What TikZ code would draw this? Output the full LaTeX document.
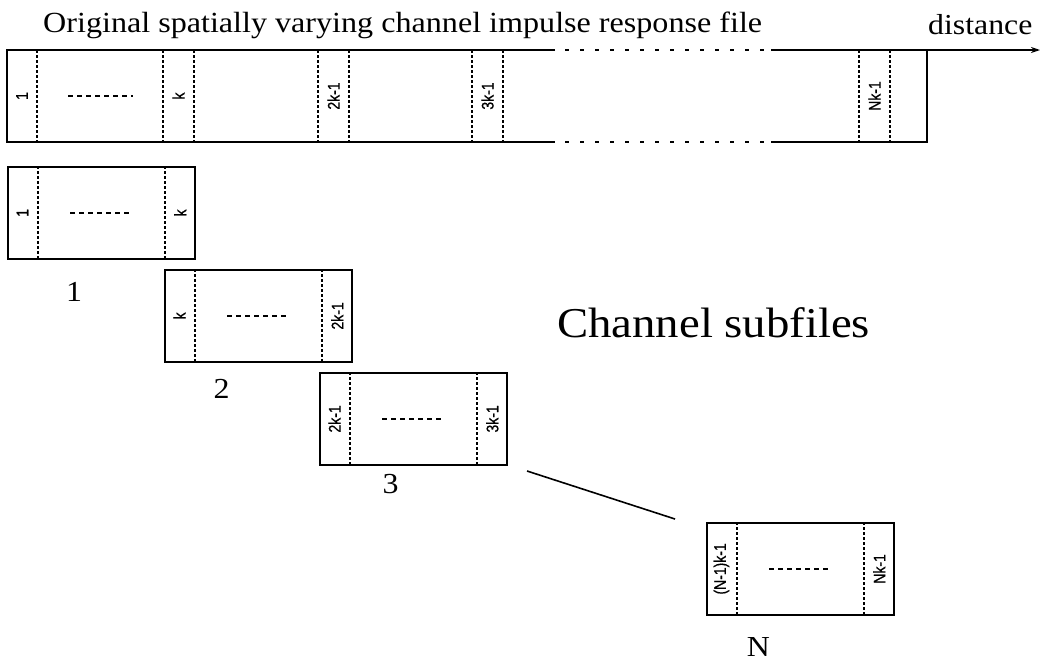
\documentclass[tikz,border=0pt]{standalone}
\usepackage{fontspec}
\setmainfont{Liberation Serif}[FakeStretch=1.1]
\newfontfamily\labelsans{Liberation Sans}[FakeBold=0.8]
\usetikzlibrary{calc,arrows.meta}
\tikzset{
  solidline/.style={line width=1.8pt},
  gapline/.style={line width=1.5pt, dash pattern=on 4pt off 11pt},
  sepline/.style={line width=1.5pt, dash pattern=on 2.5pt off 2.5pt},
  midline/.style={line width=1.2pt, dash pattern=on 5pt off 4pt},
  subfile/.style={draw, line width=1.8pt, minimum width=187pt, minimum height=92pt,
    inner sep=0pt, anchor=north west},
  cell/.style={rotate=90, inner sep=0pt, font=\labelsans\fontsize{14}{14}\selectfont},
  caption/.style={inner sep=0pt, anchor=base west},
  num/.style={inner sep=0pt, font=\fontsize{29}{29}\selectfont},
}
\newcommand\tallcell[1]{\scalebox{1}[1.2]{#1}}
\begin{document}
\begin{tikzpicture}[x=1pt,y=-1pt]
\useasboundingbox (0,0) rectangle (1041,662);

% headings
\node[caption, font=\fontsize{29.2}{29.2}\selectfont] (title) at (43,32)
  {Original spatially varying channel impulse response file};
\node[caption, font=\fontsize{28.9}{28.9}\selectfont] (dist) at (928,34) {distance};
\node[caption, font=\fontsize{42.5}{42.5}\selectfont] (sub) at (557,337) {Channel subfiles};

% the full file along the distance axis
\coordinate (tl) at (7,50);
\coordinate (bl) at (7,142);
\coordinate (tA) at (555,50);
\coordinate (tB) at (565,50);
\coordinate (tC) at (765,50);
\coordinate (tD) at (771,50);
\coordinate (tend) at (1040,50);
\coordinate (tr) at (927,50);
\coordinate (br) at (927,142);
\coordinate (bA) at (555,142);
\coordinate (bB) at (565,142);
\coordinate (bC) at (765,142);
\coordinate (bD) at (771,142);
\draw[solidline] (tA) -- (tl) -- (bl) -- (bA);
\draw[gapline] (tB) -- (tC);
\draw[gapline] (bB) -- (bC);
\draw[solidline, -{Stealth[length=9pt,width=6pt]}] (tD) -- (tend);
\draw[solidline] (bD) -- (br) -- (tr);
\foreach \x in {37,163,194,318,349,472,503,859,890}
  \draw[sepline] (\x,50) -- (\x,142);
\draw[midline] (68,96) -- (133,96);
\node[cell] (f1) at (22,96) {\tallcell{1}};
\node[cell] (fk) at (178.5,96) {\tallcell{k}};
\node[cell] (f2k) at (333.5,96) {\tallcell{2k-1}};
\node[cell] (f3k) at (487.5,96) {\tallcell{3k-1}};
\node[cell] (fNk) at (874.5,96) {\tallcell{Nk-1}};

% channel subfiles
\node[subfile] (s1) at (7,166) {};
\node[subfile] (s2) at (164,269) {};
\node[subfile] (s3) at (319,372) {};
\node[subfile] (sN) at (706,522) {};
\foreach \b/\l/\r in {s1/{1}/{k}, s2/{k}/{2k-1}, s3/{2k-1}/{3k-1}, sN/{(N-1)k-1}/{Nk-1}} {
  \draw[sepline] ([xshift=31pt]\b.north west) -- ([xshift=31pt]\b.south west);
  \draw[sepline] ([xshift=-31pt]\b.north east) -- ([xshift=-31pt]\b.south east);
  \draw[midline] ($(\b.west)+(63,0)$) -- ($(\b.west)+(125,0)$);
  \node[cell] (\b-first) at ($(\b.west)+(15.5,0)$) {\tallcell{\l}};
  \node[cell] (\b-last) at ($(\b.east)+(-15.5,0)$) {\tallcell{\r}};
}
\node[num] (n1) at (74,292) {1};
\node[num] (n2) at (221.5,389) {2};
\node[num] (n3) at (390.5,484) {3};
\node[num] (nN) at (758.5,646.5) {N};

% link towards the last subfile
\coordinate (linkA) at (527,471);
\coordinate (linkB) at (675,519);
\draw[solidline, line width=1.6pt] (linkA) -- (linkB);
\end{tikzpicture}
\end{document}
